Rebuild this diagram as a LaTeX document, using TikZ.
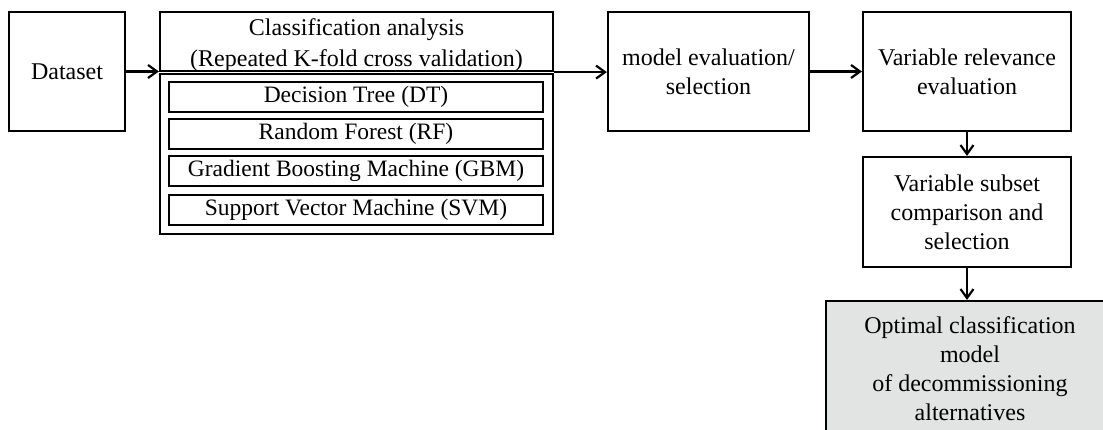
\documentclass[tikz,border=0pt]{standalone}
\usepackage{fontspec}
\setmainfont{Liberation Serif}
\usetikzlibrary{arrows.meta,positioning}
\definecolor{optgray}{RGB}{226,227,227}
\tikzset{
  box/.style={draw=black, line width=2.2pt, inner sep=0pt, align=center, font=\fontsize{24}{29}\selectfont},
  subbox/.style={draw=black, line width=2.2pt, inner sep=0pt, align=center, font=\fontsize{23.5}{27}\selectfont, minimum width=374pt, minimum height=30pt},
  flow/.style={draw=black, line width=2.2pt, -{Straight Barb[length=9pt,width=13pt,line width=2.2pt]}}
}
\begin{document}
\begin{tikzpicture}[x=1pt,y=-1pt]
\useasboundingbox (0,0) rectangle (1103,430);
\begin{scope}
\clip (0,0) rectangle (1103,430);
\node[box, minimum width=116pt, minimum height=119pt] (dataset) at (67,71.5) {Dataset};
\node[box, minimum width=393pt, minimum height=59pt] (clshead) at (356.5,41.5) {};
\node[font=\fontsize{24}{31}\selectfont, align=center, inner sep=0pt] (clstext) at (356.5,45) {Classification analysis\\(Repeated K-fold cross validation)};
\node[box, minimum width=393pt, minimum height=160pt] (clsbody) at (356.5,154) {};
\node[subbox] (dt) at (356,97) {Decision Tree (DT)};
\node[subbox] (rf) at (356,134) {Random Forest (RF)};
\node[subbox] (gbm) at (356,171) {Gradient Boosting Machine (GBM)};
\node[subbox] (svm) at (356,210) {Support Vector Machine (SVM)};
\node[box, minimum width=201pt, minimum height=119pt] (modeleval) at (708.5,71.5) {model evaluation/\\selection};
\node[box, minimum width=208pt, minimum height=119pt] (relevance) at (967,71.5) {Variable relevance\\evaluation};
\node[box, minimum width=208pt, minimum height=110pt] (subset) at (967,212) {Variable subset\\comparison and\\selection};
\node[box, fill=optgray, minimum width=288pt, minimum height=136pt] (optimal) at (970,369) {Optimal classification\\model\\of decommissioning\\alternatives};
\draw[flow] (dataset.east) -- (dataset.east -| clshead.west);
\draw[flow] (clshead.south east) -- (clshead.south east -| modeleval.west);
\draw[flow] (modeleval.east) -- (relevance.west);
\draw[flow] (relevance.south) -- (subset.north);
\draw[flow] (subset.south) -- (subset.south |- optimal.north);
\end{scope}
\end{tikzpicture}
\end{document}
